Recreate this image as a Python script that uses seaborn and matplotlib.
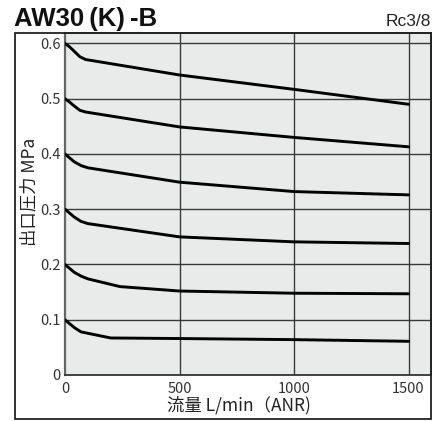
import numpy as np
import pandas as pd
import matplotlib
matplotlib.use("Agg")
import matplotlib.pyplot as plt
import seaborn as sns
from matplotlib.patches import Rectangle

# ---- data ----
flow_06 = [0, 20, 40, 65, 90, 500, 1000, 1500]
p_06 = [0.600, 0.594, 0.586, 0.576, 0.571, 0.543, 0.517, 0.490]
flow_05 = [0, 20, 40, 65, 90, 500, 1000, 1500]
p_05 = [0.500, 0.494, 0.487, 0.479, 0.476, 0.449, 0.430, 0.413]
flow_04 = [0, 20, 40, 70, 100, 500, 1000, 1500]
p_04 = [0.400, 0.393, 0.386, 0.379, 0.375, 0.349, 0.332, 0.326]
flow_03 = [0, 20, 40, 70, 100, 500, 1000, 1500]
p_03 = [0.300, 0.293, 0.286, 0.278, 0.274, 0.250, 0.241, 0.238]
flow_02 = [0, 20, 40, 70, 100, 240, 500, 1000, 1500]
p_02 = [0.200, 0.193, 0.186, 0.179, 0.174, 0.160, 0.152, 0.148, 0.147]
flow_01 = [0, 20, 40, 70, 200, 500, 1000, 1500]
p_01 = [0.100, 0.093, 0.086, 0.078, 0.067, 0.066, 0.064, 0.061]

x_ticks = [0, 500, 1000, 1500]
x_tick_labels = ["0", "500", "1000", "1500"]
y_ticks = [0, 0.1, 0.2, 0.3, 0.4, 0.5, 0.6]
y_tick_labels = ["0", "0.1", "0.2", "0.3", "0.4", "0.5", "0.6"]

title = "AW30\u2009(K)\u2009-B"
port = "Rc3/8"
xlabel = "流量 L/min（ANR)"
ylabel = "出口圧力 MPa"

curves = {"0.6": (flow_06, p_06), "0.5": (flow_05, p_05), "0.4": (flow_04, p_04),
          "0.3": (flow_03, p_03), "0.2": (flow_02, p_02), "0.1": (flow_01, p_01)}
rows = []
for name, (fl, pp) in curves.items():
    for i, (f, p) in enumerate(zip(fl, pp)):
        rows.append({"curve": name, "flow": f, "p": p, "order": i})
df = pd.DataFrame(rows)

sns.set_theme(style="white")
plt.rcParams["font.family"] = ["Noto Sans CJK JP", "DejaVu Sans"]

W, H = 444, 421
fig = plt.figure(figsize=(W / 100, H / 100), dpi=100)
L, R, T, B = 65, 431, 33, 375
ax = fig.add_axes([L / W, (H - B) / H, (R - L) / W, (B - T) / H])
ax.set_facecolor("#e9eaea")

for v in y_ticks[1:]:
    ax.axhline(v, color="#3a3a3a", lw=1.0, zorder=1)
for v in x_ticks[1:]:
    ax.axvline(v, color="#3a3a3a", lw=1.0, zorder=1)

sns.lineplot(data=df, x="flow", y="p", units="curve", estimator=None, sort=False,
             color="black", lw=2.1, ax=ax, zorder=3)

ax.set_xlim(0, 1598)
ax.set_ylim(0, 0.619)
ax.set_xticks(x_ticks)
ax.set_xticklabels(x_tick_labels)
ax.set_yticks(y_ticks)
ax.set_yticklabels(y_tick_labels)
ax.tick_params(axis="both", length=0, labelsize=10.5, colors="#333333")
ax.tick_params(axis="x", pad=5)
ax.tick_params(axis="y", pad=3)
ax.set_xlabel("")
ax.set_ylabel("")
for s in ax.spines.values():
    s.set_visible(True)
    s.set_color("#333333")
    s.set_linewidth(1.3)
ax.spines["left"].set_color("#666666")
ax.spines["left"].set_linewidth(1.6)

# outer frame
fig.patches.append(Rectangle((15 / W, (H - 419) / H), (431 - 15) / W, (419 - 33) / H,
                             transform=fig.transFigure, fill=False,
                             edgecolor="#222222", lw=1.3, zorder=0))

fig.text(14 / W, (H - 26) / H, title, fontsize=18.5, fontweight="bold",
         family=["Liberation Sans", "DejaVu Sans"], ha="left", va="baseline", color="#111111")
fig.text(431 / W, (H - 26) / H, port, fontsize=12.5, family=["Liberation Sans", "DejaVu Sans"],
         ha="right", va="baseline", color="#222222")
fig.text(239 / W, (H - 405) / H, xlabel, fontsize=12.5, ha="center", va="center", color="#222222")
fig.text(29 / W, (H - 192) / H, ylabel, fontsize=12.5, ha="center", va="center",
         rotation=90, color="#222222")

fig.savefig("out.png", dpi=100)
